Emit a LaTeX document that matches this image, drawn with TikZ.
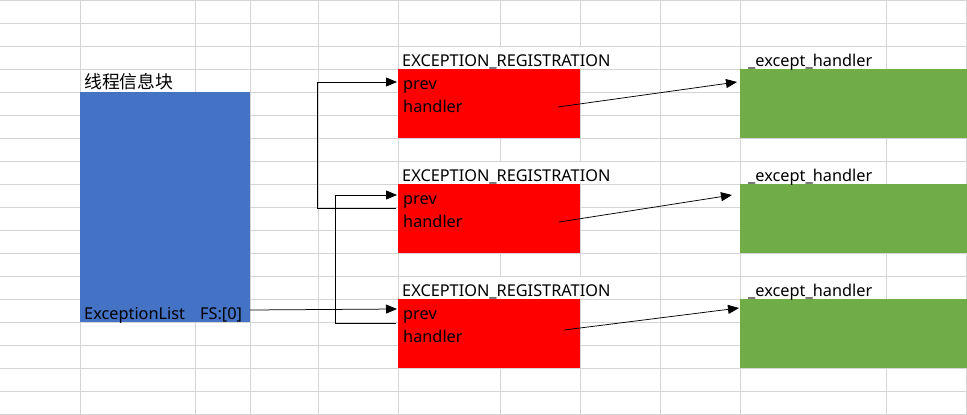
\documentclass[tikz,border=0pt]{standalone}
\usepackage{fontspec}
\setmainfont{Noto Sans}
\newfontfamily\cjk{Noto Sans CJK SC}
\usetikzlibrary{positioning,arrows.meta,calc}
\definecolor{gridgray}{HTML}{D4D4D4}
\definecolor{tibblue}{HTML}{4472C4}
\definecolor{regred}{HTML}{FF0000}
\definecolor{handgreen}{HTML}{70AD47}

\begin{document}
\begin{tikzpicture}[
  x=1pt, y=-1pt,
  font=\fontsize{16.3}{19}\selectfont,
  grid/.style={draw=gridgray, line width=1pt},
  cell/.style={anchor=north west, inner sep=0pt, outer sep=0pt},
  regbox/.style={cell, fill=regred, minimum width=182pt, minimum height=69pt},
  handbox/.style={cell, fill=handgreen, minimum width=227pt, minimum height=69pt},
  lbl/.style={anchor=base west, inner sep=0pt},
  arrow/.style={-{Triangle[length=11pt, width=9pt]}, line width=0.75pt}
]
\useasboundingbox (0,0) rectangle (967,415);

% sheet grid
\foreach \y in {0,23,...,414} \draw[grid] (0,\y) -- (967,\y);
\foreach \x in {80,195,250,318,398,500,580,660,740,886,966} \draw[grid] (\x,0) -- (\x,415);

% thread information block
\node[cell, fill=tibblue, minimum width=170pt, minimum height=230pt] (tib) at (80,92) {};
\node[lbl] (tibname) at (84,88.5) {\cjk\fontsize{17.8}{20}\selectfont 线程信息块};
\node[lbl] (exlist) at (84,319) {ExceptionList};
\node[lbl] (fs) at (200,319) {FS:[0]};

% registration records and their handlers
\foreach \i/\y in {1/69,2/184,3/299} {
  \fill[white] (399,\y-22) rectangle (659,\y-1);
  \node[regbox] (r\i) at (398,\y) {};
  \node[handbox] (g\i) at (740,\y) {};
  \node[lbl] (title\i) at (402,\y-3) {EXCEPTION\_REGISTRATION};
  \node[lbl] (prev\i) at (403,\y+20) {prev};
  \node[lbl] (hnd\i) at (403,\y+43) {handler};
  \node[lbl] (ehname\i) at (748,\y-3) {\_except\_handler};
}

% chain
\draw[arrow] ($(tib.south east)+(0,-12)$) -- ($(r3.north west)+(-1,10)$);
\draw[arrow] ($(r3.north west)+(-2,24)$) -- ++(-61,0) |- ($(r2.north west)+(-1,11)$);
\draw[arrow] ($(r2.north west)+(-2,24)$) -- ++(-79,0) |- ($(r1.north west)+(-1,13)$);
\draw[arrow] ($(r1.north east)+(-22,38)$) -- ($(g1.north west)+(-3,13)$);
\draw[arrow] ($(r2.north east)+(-21,38)$) -- ($(g2.north west)+(-8,11)$);
\draw[arrow] ($(r3.north east)+(-16,31)$) -- ($(g3.north west)+(-1,9)$);
\end{tikzpicture}
\end{document}
